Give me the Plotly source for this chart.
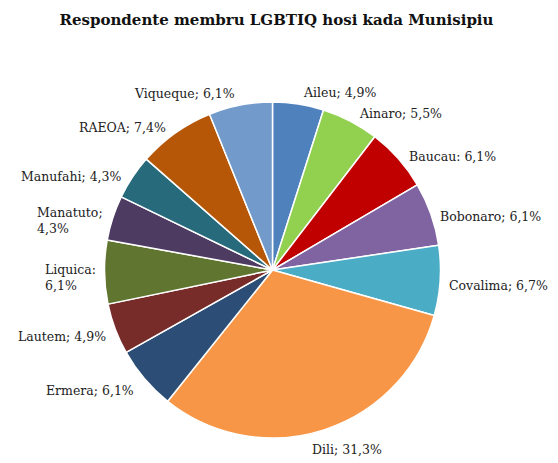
import math
import plotly.graph_objects as go

municipalities = ["Aileu", "Ainaro", "Baucau", "Bobonaro", "Covalima", "Dili", "Ermera",
                  "Lautem", "Liquica", "Manatuto", "Manufahi", "RAEOA", "Viqueque"]
percentages = [4.9, 5.5, 6.1, 6.1, 6.7, 31.3, 6.1, 4.9, 6.1, 4.3, 4.3, 7.4, 6.1]
separators = ["; ", "; ", ": ", "; ", "; ", "; ", "; ", "; ", ":<br>", ";<br>", "; ", "; ", "; "]
colors = ["#4F81BD", "#92D050", "#C00000", "#8064A2", "#4BACC6", "#F79646", "#2C4D75",
          "#772C2A", "#5F7530", "#4D3B62", "#276A7C", "#B65708", "#729ACA"]

W, H = 558, 463
OFF = 8  # page body margin
CX, CY, R = 272.5 - OFF, 270 - OFF, 168
FONT = "DejaVu Serif"

fig = go.Figure(go.Pie(
    labels=municipalities,
    values=percentages,
    sort=False,
    direction="clockwise",
    rotation=0,
    textinfo="none",
    hoverinfo="label+percent",
    marker=dict(colors=colors, line=dict(color="white", width=1.5)),
    domain=dict(x=[(CX - R) / W, (CX + R) / W], y=[(H - CY - R) / H, (H - CY + R) / H]),
    showlegend=False,
))

total = sum(percentages)
cum = 0.0
annotations = []
for name, val, sep in zip(municipalities, percentages, separators):
    mid = (cum + val / 2) / total * 2 * math.pi
    cum += val
    s, c = math.sin(mid), math.cos(mid)
    r = R * (1.1 - 0.06 * s * s)
    px = CX + r * s
    py = CY - r * c
    if c < 0 and abs(s) < 0.5:
        xa = "center"
        px += 18
    elif s >= 0:
        xa = "left"
    else:
        xa = "right"
    text = f"{name}{sep}{str(val).replace('.', ',')}%"
    annotations.append(dict(
        x=px / W, y=1 - (py + 5) / H, xref="paper", yref="paper",
        text=text, showarrow=False, xanchor=xa, yanchor="middle", align="left",
        font=dict(family=FONT, size=12.5, color="#222222"),
    ))

fig.update_layout(
    width=W, height=H,
    margin=dict(l=0, r=0, t=0, b=0),
    paper_bgcolor="white",
    plot_bgcolor="white",
    title=dict(text="<b>Respondente membru LGBTIQ hosi kada Munisipiu</b>",
               x=(276.5 - OFF) / W, xanchor="center", y=1 - (20 - OFF) / H, yanchor="middle",
               font=dict(family=FONT, size=15, color="#111111")),
    annotations=annotations,
)

fig.write_html("out.html")
